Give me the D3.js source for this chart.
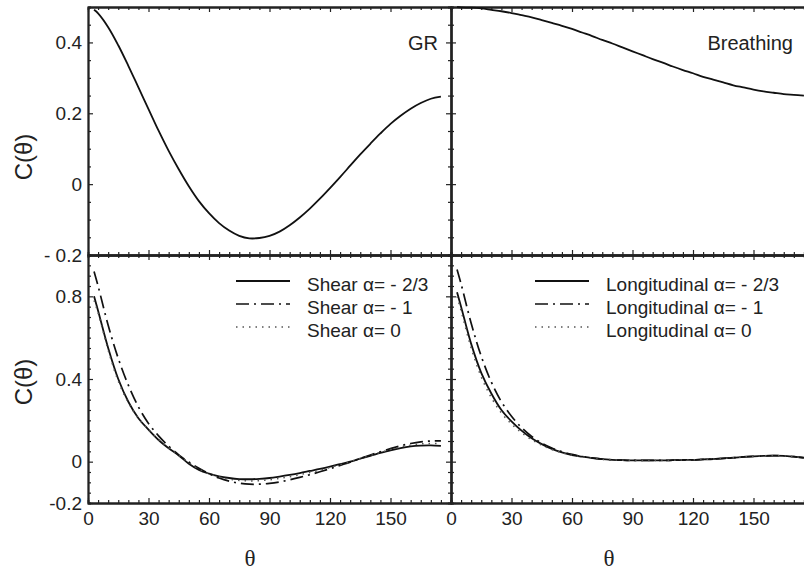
<html>
<head>
<title>Correlation curves</title>
<style>
  body { margin: 0; background: #fff; }
  text { font-family: "Liberation Sans", Arial, sans-serif; fill: #222; }
</style>
</head>
<body>
<script src="https://d3js.org/d3.v7.min.js"></script>
<script>
// angular separation (degrees)
var theta = [3, 5, 10, 15, 20, 25, 30, 35, 40, 45, 50, 55, 60, 65, 70, 75, 80, 85, 90,
             95, 100, 105, 110, 115, 120, 125, 130, 135, 140, 145, 150, 155, 160, 165, 170, 175];

var grValues = [0.492, 0.482, 0.443, 0.392, 0.334, 0.273, 0.212, 0.151, 0.094, 0.042,
                -0.006, -0.048, -0.082, -0.110, -0.131, -0.146, -0.153, -0.152, -0.146, -0.134,
                -0.116, -0.094, -0.069, -0.041, -0.011, 0.020, 0.052, 0.084, 0.114, 0.143,
                0.170, 0.193, 0.213, 0.229, 0.241, 0.247];

var breathingValues = [0.500, 0.499, 0.498, 0.496, 0.492, 0.488, 0.483, 0.477, 0.471, 0.463,
                       0.455, 0.447, 0.438, 0.428, 0.418, 0.407, 0.397, 0.386, 0.375, 0.364,
                       0.353, 0.343, 0.332, 0.322, 0.313, 0.303, 0.295, 0.287, 0.279, 0.273,
                       0.267, 0.262, 0.258, 0.254, 0.252, 0.250];

var shearA23 = [0.80, 0.73, 0.55, 0.40, 0.29, 0.21, 0.155, 0.105, 0.065, 0.03,
                -0.01, -0.04, -0.058, -0.071, -0.079, -0.084, -0.085, -0.083, -0.079, -0.072,
                -0.064, -0.055, -0.045, -0.035, -0.024, -0.012, 0.000, 0.015, 0.028, 0.042,
                0.055, 0.066, 0.074, 0.078, 0.079, 0.076];
var shearA1 = [0.92, 0.85, 0.66, 0.50, 0.37, 0.265, 0.185, 0.125, 0.075, 0.033,
               -0.002, -0.032, -0.058, -0.079, -0.094, -0.104, -0.109, -0.109, -0.105, -0.098,
               -0.088, -0.076, -0.063, -0.049, -0.034, -0.018, -0.002, 0.015, 0.032, 0.048,
               0.063, 0.077, 0.088, 0.096, 0.100, 0.101];
var shearA0 = [0.78, 0.72, 0.54, 0.39, 0.285, 0.21, 0.155, 0.107, 0.067, 0.032,
               -0.004, -0.036, -0.058, -0.074, -0.085, -0.091, -0.093, -0.092, -0.088, -0.081,
               -0.073, -0.063, -0.052, -0.041, -0.028, -0.015, -0.001, 0.015, 0.030, 0.045,
               0.059, 0.071, 0.080, 0.086, 0.088, 0.087];

var longA23 = [0.82, 0.75, 0.57, 0.43, 0.33, 0.25, 0.195, 0.15, 0.113, 0.085,
               0.062, 0.045, 0.032, 0.024, 0.017, 0.012, 0.009, 0.007, 0.006, 0.006,
               0.006, 0.006, 0.007, 0.008, 0.009, 0.011, 0.013, 0.016, 0.019, 0.023,
               0.026, 0.028, 0.029, 0.028, 0.024, 0.019];
var longA1 = [0.93, 0.86, 0.67, 0.51, 0.385, 0.29, 0.22, 0.165, 0.122, 0.09,
              0.066, 0.048, 0.035, 0.025, 0.018, 0.012, 0.009, 0.007, 0.006, 0.006,
              0.006, 0.006, 0.007, 0.008, 0.009, 0.011, 0.013, 0.016, 0.019, 0.023,
              0.026, 0.028, 0.029, 0.028, 0.024, 0.019];
var longA0 = [0.80, 0.73, 0.55, 0.41, 0.31, 0.235, 0.182, 0.14, 0.106, 0.08,
              0.059, 0.043, 0.031, 0.023, 0.017, 0.012, 0.009, 0.007, 0.006, 0.006,
              0.006, 0.006, 0.007, 0.008, 0.009, 0.011, 0.013, 0.016, 0.019, 0.023,
              0.026, 0.028, 0.029, 0.028, 0.024, 0.019];

var shearLabels = ['Shear \u03b1= - 2/3', 'Shear \u03b1= - 1', 'Shear \u03b1= 0'];
var longLabels = ['Longitudinal \u03b1= - 2/3', 'Longitudinal \u03b1= - 1', 'Longitudinal \u03b1= 0'];

var xMajor = [0, 30, 60, 90, 120, 150, 180];
var xLabels = ['0', '30', '60', '90', '120', '150', ''];
var topYMajor = [-0.2, 0, 0.2, 0.4];
var topYLabels = ['- 0.2', '0', '0.2', '0.4'];
var botYMajor = [-0.2, 0, 0.4, 0.8];
var botYLabels = ['-0.2', '0', '0.4', '0.8'];

var styles = [
    { dash: null, width: 1.8, color: '#111' },
    { dash: '13,5,2,5', width: 1.7, color: '#111' },
    { dash: '1.5,5', width: 1.5, color: '#555' }
];

var W = 804, H = 570;
var svg = d3.select('body').append('svg').attr('width', W).attr('height', H);

var panelW = 363;
var xLeft = 88, xMid = 451;
var yTop = 7, yMid = 255, yBot = 503;

function minorRange(lo, hi, step, majors) {
    var out = [];
    for (var i = Math.round(lo / step); i <= Math.round(hi / step); i++) {
        var v = +(i * step).toFixed(4);
        if (majors.indexOf(v) < 0) out.push(v);
    }
    return out;
}

function panel(opt) {
    var x = d3.scaleLinear().domain([0, 180]).range([opt.x0, opt.x0 + panelW]);
    var y = d3.scaleLinear().domain(opt.yDomain).range([opt.y1, opt.y0]);
    var g = svg.append('g');

    var xMinor = minorRange(0, 180, 5, xMajor);
    var yMinor = minorRange(opt.yDomain[0], opt.yDomain[1], 0.05, opt.yMajor);

    function addAxis(axis, tx, ty) {
        var a = g.append('g').attr('transform', 'translate(' + tx + ',' + ty + ')').call(axis);
        a.selectAll('path.domain').attr('stroke', '#222').attr('stroke-width', 1.8);
        a.selectAll('.tick line').attr('stroke', '#222').attr('stroke-width', 1.2);
        a.selectAll('.tick text').attr('fill', '#222').style('font-size', '19px')
            .style('font-family', '"Liberation Sans", Arial, sans-serif');
        return a;
    }

    // bottom
    addAxis(d3.axisBottom(x).tickValues(xMajor).tickSizeInner(-5).tickSizeOuter(0).tickPadding(9)
        .tickFormat(function(d, i) { return opt.xLabels ? xLabels[i] : ''; }), 0, opt.y1);
    addAxis(d3.axisBottom(x).tickValues(xMinor).tickSize(-3).tickFormat(''), 0, opt.y1);
    // top
    addAxis(d3.axisTop(x).tickValues(xMajor).tickSizeInner(-5).tickSizeOuter(0).tickFormat(''), 0, opt.y0);
    addAxis(d3.axisTop(x).tickValues(xMinor).tickSize(-3).tickFormat(''), 0, opt.y0);
    // left
    addAxis(d3.axisLeft(y).tickValues(opt.yMajor).tickSizeInner(-5).tickSizeOuter(0).tickPadding(6)
        .tickFormat(function(d, i) { return opt.yLabels ? opt.yLabels[i] : ''; }), opt.x0, 0);
    addAxis(d3.axisLeft(y).tickValues(yMinor).tickSize(-3).tickFormat(''), opt.x0, 0);
    // right
    addAxis(d3.axisRight(y).tickValues(opt.yMajor).tickSizeInner(-5).tickSizeOuter(0).tickFormat(''), opt.x0 + panelW, 0);
    addAxis(d3.axisRight(y).tickValues(yMinor).tickSize(-3).tickFormat(''), opt.x0 + panelW, 0);

    var line = d3.line()
        .x(function(d) { return x(d[0]); })
        .y(function(d) { return y(d[1]); })
        .curve(d3.curveCatmullRom);

    opt.series.forEach(function(s, i) {
        var st = styles[i];
        g.append('path')
            .datum(d3.zip(theta, s))
            .attr('d', line)
            .attr('fill', 'none')
            .attr('stroke', st.color)
            .attr('stroke-width', st.width)
            .attr('stroke-dasharray', st.dash);
    });

    if (opt.title) {
        g.append('text')
            .attr('x', opt.titleX).attr('y', 50)
            .attr('text-anchor', 'end')
            .style('font-size', '20px')
            .text(opt.title);
    }

    if (opt.legend) {
        var rows = g.selectAll('.leg').data(opt.legend).enter().append('g')
            .attr('transform', function(d, i) { return 'translate(0,' + (281 + i * 23) + ')'; });
        rows.append('line')
            .attr('x1', opt.legX).attr('x2', opt.legX + 54)
            .attr('stroke', function(d, i) { return styles[i].color; })
            .attr('stroke-width', function(d, i) { return styles[i].width; })
            .attr('stroke-dasharray', function(d, i) { return styles[i].dash; });
        rows.append('text')
            .attr('x', opt.legX + 71).attr('y', 10)
            .style('font-size', '19px')
            .text(function(d) { return d; });
    }
}

panel({ x0: xLeft, y0: yTop, y1: yMid, yDomain: [-0.2, 0.5], yMajor: topYMajor, yLabels: topYLabels,
        series: [grValues], title: 'GR', titleX: 438 });
panel({ x0: xMid, y0: yTop, y1: yMid, yDomain: [-0.2, 0.5], yMajor: topYMajor,
        series: [breathingValues], title: 'Breathing', titleX: 793 });
panel({ x0: xLeft, y0: yMid, y1: yBot, yDomain: [-0.2, 1.0], yMajor: botYMajor, yLabels: botYLabels,
        xLabels: true, series: [shearA23, shearA1, shearA0], legend: shearLabels, legX: 236 });
panel({ x0: xMid, y0: yMid, y1: yBot, yDomain: [-0.2, 1.0], yMajor: botYMajor,
        xLabels: true, series: [longA23, longA1, longA0], legend: longLabels, legX: 535 });

// axis titles
[157, 382].forEach(function(cy) {
    svg.append('text')
        .attr('transform', 'translate(32,' + cy + ') rotate(-90)')
        .attr('text-anchor', 'middle')
        .style('font-size', '24px')
        .text('C(\u03b8)');
});
[250, 609].forEach(function(cx) {
    svg.append('text')
        .attr('x', cx).attr('y', 566)
        .attr('text-anchor', 'middle')
        .style('font-family', '"Liberation Serif", "Times New Roman", serif')
        .style('font-size', '23px')
        .text('\u03b8');
});
</script>
</body>
</html>
